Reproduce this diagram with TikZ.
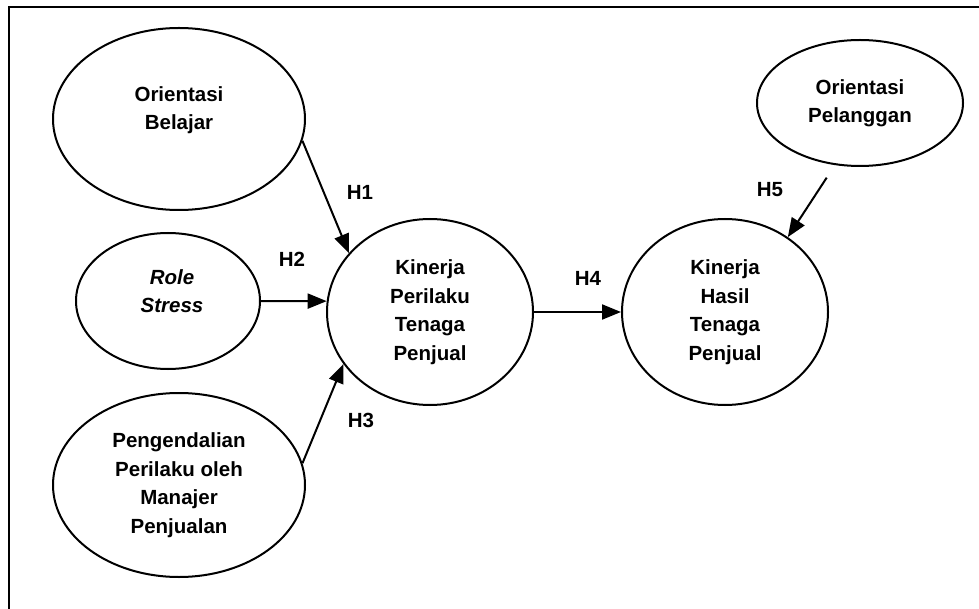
\documentclass[tikz,border=0pt]{standalone}
\usepackage{fontspec}
\newfontfamily\diag{Liberation Sans}
\usetikzlibrary{shapes.geometric,arrows.meta}
\begin{document}
\begin{tikzpicture}[x=1pt,y=-1pt,
  ell/.style={draw, ellipse, line width=2pt, inner sep=0pt, align=center,
    font=\diag\bfseries\fontsize{20.5}{28.5}\selectfont},
  txt/.style={align=center, inner sep=0pt, font=\diag\bfseries\fontsize{20.5}{28.5}\selectfont},
  itxt/.style={txt, font=\diag\bfseries\itshape\fontsize{20.5}{28.5}\selectfont},
  hyp/.style={inner sep=0pt, font=\diag\bfseries\fontsize{20.5}{28.5}\selectfont},
  conn/.style={line width=2pt, -{Triangle[length=19pt,width=15pt]}}]
\useasboundingbox (0,0) rectangle (979,609);
\draw[line width=2pt, line join=miter] (979,7) -- (9,7) -- (9,609);

\node[ell, minimum width=252pt, minimum height=182pt] (ob) at (179,119) {};
\node[txt] (obt) at (179,110) {Orientasi\\Belajar};
\node[ell, minimum width=184pt, minimum height=136pt] (rs) at (168,301) {};
\node[itxt] (rst) at (172,291) {Role\\Stress};
\node[ell, minimum width=252pt, minimum height=184pt] (pp) at (179,485) {Pengendalian\\Perilaku oleh\\Manajer\\Penjualan};
\node[ell, minimum width=206pt, minimum height=186pt] (kp) at (430,312) {Kinerja\\Perilaku\\Tenaga\\Penjual};
\node[ell, minimum width=206pt, minimum height=186pt] (kh) at (725,312) {Kinerja\\Hasil\\Tenaga\\Penjual};
\node[ell, minimum width=206pt, minimum height=126pt] (op) at (860,103) {Orientasi\\Pelanggan};

\draw[conn] (ob.-10) -- (kp.144);
\draw[conn] (rs.east) -- (kp.174);
\draw[conn] (pp.10) -- (kp.-149);
\draw[conn] (kp.east) -- (kh.west);
\draw[conn, shorten <=15pt] (op.-112) -- (kh.50);

\node[hyp] (h1) at (360,192) {H1};
\node[hyp] (h2) at (292,259) {H2};
\node[hyp] (h3) at (361,420) {H3};
\node[hyp] (h4) at (588,278) {H4};
\node[hyp] (h5) at (770,190) {H5};
\end{tikzpicture}
\end{document}
